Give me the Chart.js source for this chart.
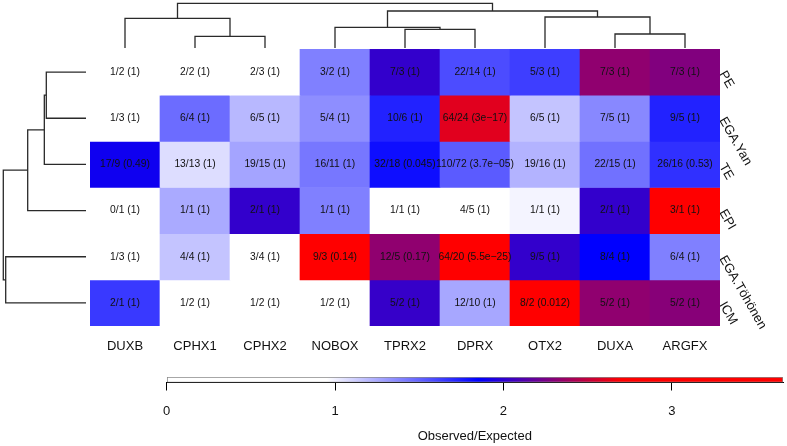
<!DOCTYPE html>
<html><head><meta charset="utf-8">
<script src="https://cdn.jsdelivr.net/npm/chart.js@4.4.1/dist/chart.umd.min.js"></script>
<style>
html,body{margin:0;padding:0;background:#fff;}
#wrap{position:relative;width:787px;height:446px;overflow:hidden;background:#fff;}
canvas{position:absolute;}
</style></head><body>
<div id="wrap">
<canvas id="heat" width="787" height="446" style="left:0;top:0"></canvas>
<canvas id="dtop" width="630" height="49" style="left:90px;top:0"></canvas>
<canvas id="dleft" width="88" height="277" style="left:0;top:49px"></canvas>
<canvas id="cbar" width="637" height="86" style="left:150px;top:360px"></canvas>
</div>
<script>
// ---------------- data ----------------
const columns = ['DUXB','CPHX1','CPHX2','NOBOX','TPRX2','DPRX','OTX2','DUXA','ARGFX'];
const rows = ['PE','EGA.Yan','TE','EPI','EGA.Töhönen','ICM'];
const observed = [
  [1,2,2,3,7,22,5,7,7],
  [1,6,6,5,10,64,6,7,9],
  [17,13,19,16,32,110,19,22,26],
  [0,1,2,1,1,4,1,2,3],
  [1,4,3,9,12,64,9,8,6],
  [2,1,1,1,5,12,8,5,5]
];
const expected = [
  [2,2,3,2,3,14,3,3,3],
  [3,4,5,4,6,24,5,5,5],
  [9,13,15,11,18,72,16,15,16],
  [1,1,1,1,1,5,1,1,1],
  [3,4,4,3,5,20,5,4,4],
  [1,2,2,2,2,10,2,2,2]
];
const pvalues = [
  ['1','1','1','1','1','1','1','1','1'],
  ['1','1','1','1','1','3e\u221217','1','1','1'],
  ['0.49','1','1','1','0.045','3.7e\u221205','1','1','0.53'],
  ['1','1','1','1','1','1','1','1','1'],
  ['1','1','1','0.14','0.17','5.5e\u221225','1','1','1'],
  ['1','1','1','1','1','1','0.012','1','1']
];
// observed/expected ratio used for the cell colour
const ratio = [
  [0.50,0.90,0.67,1.40,2.02,1.58,1.63,2.33,2.28],
  [0.33,1.47,1.20,1.35,1.73,2.60,1.16,1.37,1.73],
  [1.90,1.07,1.27,1.43,1.80,1.53,1.22,1.45,1.68],
  [0.00,1.25,2.02,1.40,0.90,0.80,0.99,2.02,3.00],
  [0.33,1.16,0.75,3.00,2.33,3.20,2.02,1.85,1.40],
  [1.65,0.50,0.50,0.50,2.03,1.26,4.00,2.33,2.30]
];
// column dendrogram (hclust style merges, negative = leaf index)
const colMerge = [[-2,-3],[-8,-9],[-5,-6],[-4,3],[-1,1],[-7,2],[4,6],[5,7]];
const colHeight = [0.262,0.313,0.418,0.463,0.664,0.694,0.828,1.0];
// row dendrogram
const rowMerge = [[-1,-2],[1,-3],[2,-4],[-5,-6],[3,4]];
const rowHeight = [0.48,0.504,0.705,0.971,1.0];
// colour scale
const colorStopValues = [0, 0.95, 1.85, 2.7, 4.0];
const colorStopColors = ['#ffffff','#ffffff','#0000ff','#ff0000','#ff0000'];
const colorbarMin = 0, colorbarMax = 3.66;
const colorbarTicks = [0,1,2,3];
const colorbarTitle = 'Observed/Expected';

// ---------------- helpers ----------------
const FAMILY = '"Liberation Sans", Arial, Helvetica, sans-serif';
Chart.defaults.font.family = FAMILY;
Chart.defaults.color = '#111';
function hex2rgb(h){return [parseInt(h.slice(1,3),16),parseInt(h.slice(3,5),16),parseInt(h.slice(5,7),16)];}
function colorFor(v){
  const s = colorStopValues, c = colorStopColors;
  if (v <= s[0]) return c[0];
  for (let i=1;i<s.length;i++){
    if (v <= s[i]){
      const t=(v-s[i-1])/(s[i]-s[i-1]);
      const a=hex2rgb(c[i-1]), b=hex2rgb(c[i]);
      return 'rgb('+a.map((x,k)=>Math.round(x+(b[k]-x)*t)).join(',')+')';
    }
  }
  return c[c.length-1];
}
function cellLabel(r,c){return observed[r][c]+'/'+expected[r][c]+' ('+pvalues[r][c]+')';}
function dendroSegments(merge, height){
  const pos=[]; const segs=[];
  const P = i => i<0 ? (-i-0.5) : pos[i-1];
  const H = i => i<0 ? 0 : height[i-1];
  merge.forEach((m,k)=>{
    const a=m[0], b=m[1], h=height[k];
    segs.push([[P(a),H(a)],[P(a),h],[P(b),h],[P(b),H(b)]]);
    pos[k]=(P(a)+P(b))/2;
  });
  return segs;
}
const LINE='#2a2a2a';

// ---------------- heatmap ----------------
const cellText = {id:'cellText', afterDatasetsDraw(chart){
  const ctx=chart.ctx; ctx.save();
  ctx.font='10.3px '+FAMILY; ctx.fillStyle='#111'; ctx.textAlign='center'; ctx.textBaseline='middle';
  chart.data.datasets.forEach((ds,ri)=>{
    chart.getDatasetMeta(ri).data.forEach((el,ci)=>{
      ctx.fillText(cellLabel(ri,ci), el.x, (el.y+el.base)/2);
    });
  });
  ctx.restore();
}};
new Chart(document.getElementById('heat'),{
  type:'bar',
  data:{labels:columns, datasets: rows.map((r,ri)=>({
    label:r,
    data: columns.map(()=>[rows.length-1-ri, rows.length-ri]),
    backgroundColor: ratio[ri].map(colorFor),
    borderWidth:0, barPercentage:1, categoryPercentage:1, grouped:false
  }))},
  options:{responsive:false, animation:false, devicePixelRatio:1,
    layout:{padding:{left:90, top:49, right:0, bottom:0}},
    plugins:{legend:{display:false}, tooltip:{enabled:false}},
    scales:{
      x:{type:'category', position:'bottom', grid:{display:false, drawTicks:false}, border:{display:false},
         ticks:{color:'#111', font:{size:13}, padding:13, maxRotation:0, autoSkip:false},
         afterFit(s){s.height=120;}},
      y:{type:'linear', position:'right', min:0, max:rows.length, grid:{display:false, drawTicks:false}, border:{display:false},
         afterBuildTicks(s){s.ticks=rows.map((r,i)=>({value:rows.length-0.5-i}));},
         ticks:{callback:(v)=>rows[Math.round(rows.length-0.5-v)], minRotation:-60, maxRotation:-60, padding:2, color:'#111', font:{size:13}},
         afterFit(s){s.width=67;}}
    }
  },
  plugins:[cellText]
});

// ---------------- dendrograms ----------------
function dendroDatasets(segs, swap){
  return segs.map(seg=>({
    data: seg.map(p=> swap ? {x:p[1], y:p[0]} : {x:p[0], y:p[1]}),
    showLine:true, pointRadius:0, borderColor:LINE, borderWidth:1.3, tension:0, clip:false
  }));
}
new Chart(document.getElementById('dtop'),{
  type:'scatter',
  data:{datasets: dendroDatasets(dendroSegments(colMerge,colHeight), false)},
  options:{responsive:false, animation:false, devicePixelRatio:1,
    layout:{padding:{left:0,right:0,top:3.3,bottom:1}},
    plugins:{legend:{display:false}, tooltip:{enabled:false}},
    scales:{x:{type:'linear', min:0, max:columns.length, display:false},
            y:{type:'linear', min:0, max:1, display:false}}}
});
new Chart(document.getElementById('dleft'),{
  type:'scatter',
  data:{datasets: dendroDatasets(dendroSegments(rowMerge,rowHeight), true)},
  options:{responsive:false, animation:false, devicePixelRatio:1,
    layout:{padding:{left:3.3,right:2,top:0,bottom:0}},
    plugins:{legend:{display:false}, tooltip:{enabled:false}},
    scales:{x:{type:'linear', min:0, max:1, reverse:true, display:false},
            y:{type:'linear', min:0, max:rows.length, reverse:true, display:false}}}
});

// ---------------- colour bar ----------------
new Chart(document.getElementById('cbar'),{
  type:'bar',
  data:{labels:[''], datasets:[{
    data:[[colorbarMin, colorbarMax]],
    backgroundColor:(c)=>{
      const ch=c.chart, xs=ch.scales.x;
      if(!xs || !ch.chartArea) return '#fff';
      const x0=xs.getPixelForValue(colorbarMin), x1=xs.getPixelForValue(colorbarMax);
      const g=ch.ctx.createLinearGradient(x0,0,x1,0);
      colorStopValues.forEach((v,i)=>{
        const t=Math.min(1,Math.max(0,(v-colorbarMin)/(colorbarMax-colorbarMin)));
        g.addColorStop(t,colorStopColors[i]);
      });
      return g;
    },
    borderColor:'#8a8a8a', borderWidth:1, borderSkipped:false, barPercentage:1, categoryPercentage:1
  }]},
  options:{indexAxis:'y', responsive:false, animation:false, devicePixelRatio:1,
    layout:{padding:{left:13,right:4,top:17,bottom:0}},
    plugins:{legend:{display:false}, tooltip:{enabled:false}},
    scales:{
      x:{type:'linear', min:colorbarMin, max:colorbarMax, position:'bottom', z:1,
         grid:{display:true, drawOnChartArea:false, drawTicks:true, tickLength:8, color:'#000', lineWidth:1},
         border:{display:true, color:'#000', width:1},
         afterBuildTicks(s){s.ticks=colorbarTicks.map(v=>({value:v}));},
         ticks:{padding:13, color:'#111', font:{size:13}},
         title:{display:true, text:colorbarTitle, color:'#111', font:{size:13}, padding:{top:0,bottom:2}},
         afterFit(s){s.height=63.5;}},
      y:{display:false}
    }}
});
</script>
</body></html>
